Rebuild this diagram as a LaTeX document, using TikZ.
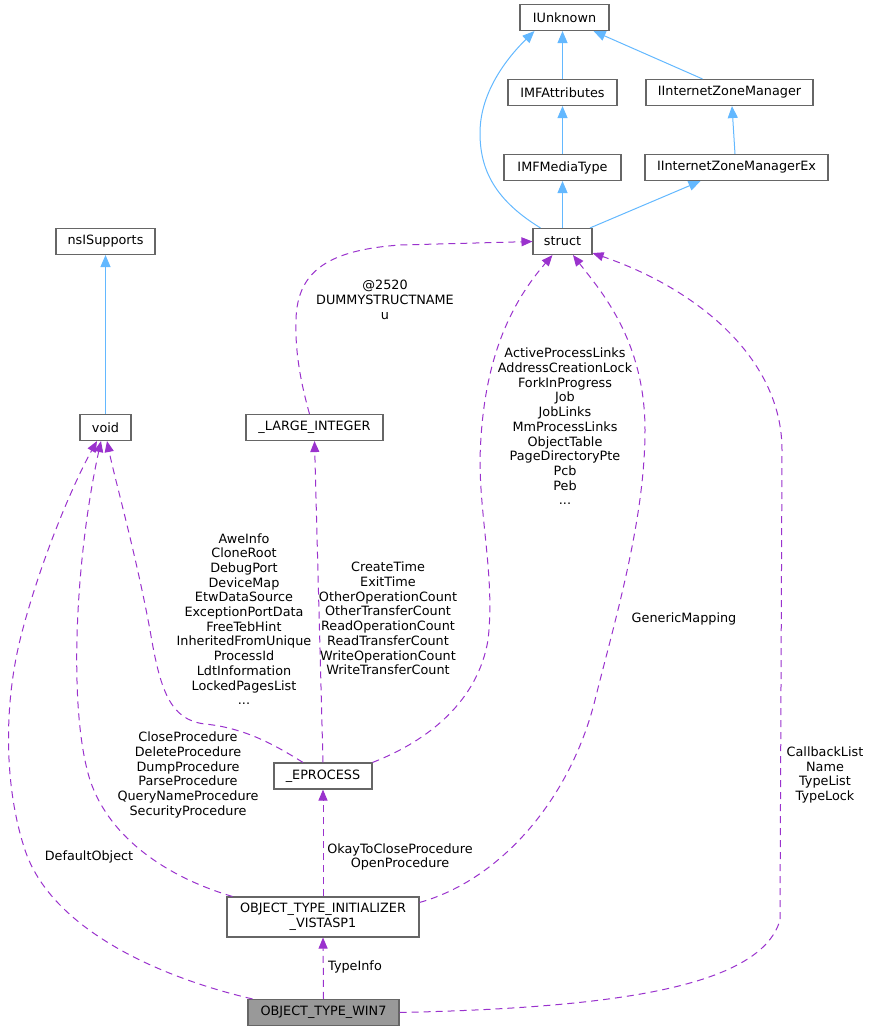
\documentclass[tikz,border=0pt]{standalone}
\usepackage{fontspec}
\setmainfont{DejaVu Sans}
\usetikzlibrary{arrows.meta}
\definecolor{inhblue}{HTML}{63B8FF}
\definecolor{usepurple}{HTML}{9A32CD}
\definecolor{boxgray}{HTML}{666666}
\definecolor{focusgray}{HTML}{999999}

\begin{document}
\begin{tikzpicture}[x=1pt, y=-1pt, font=\fontsize{12.8}{14.7}\selectfont]
  \tikzstyle{cls}=[draw=boxgray, line width=1.1pt, fill=white, minimum height=26pt, inner xsep=2pt, inner ysep=2pt]
  \tikzstyle{inh}=[draw=inhblue, line width=1pt, -{Triangle[length=12pt, width=10pt]}]
  \tikzstyle{use}=[draw=usepurple, line width=1pt, dash pattern=on 7pt off 5pt, -{Triangle[length=11pt, width=9pt]}]
  \tikzstyle{lab}=[align=center, inner sep=0pt]

  \useasboundingbox (0,0) rectangle (871,1031);

  % classes
  \node[cls, minimum width=89pt] (iunk) at (564.5,17.5) {IUnknown};
  \node[cls, minimum width=109pt] (imfattr) at (562.5,92.5) {IMFAttributes};
  \node[cls, minimum width=167pt] (izm) at (729.5,92.5) {IInternetZoneManager};
  \node[cls, minimum width=117pt] (imfmt) at (562.5,167.5) {IMFMediaType};
  \node[cls, minimum width=183pt] (izmex) at (736.5,167.5) {IInternetZoneManagerEx};
  \node[cls, minimum width=59pt] (struct) at (562.5,241.5) {struct};
  \node[cls, minimum width=99pt] (nsis) at (105.5,241.5) {nsISupports};
  \node[cls, minimum width=51pt] (void) at (105.5,427.5) {void};
  \node[cls, minimum width=137pt] (lint) at (314.5,427.5) {\_LARGE\_INTEGER};
  \node[cls, minimum width=98pt] (eproc) at (323,776) {\_EPROCESS};
  \node[cls, minimum width=192pt, minimum height=40pt, align=center] (oti) at (323,917) {OBJECT\_TYPE\_INITIALIZER\\\_VISTASP1};
  \node[cls, minimum width=151pt, fill=focusgray] (otw) at (323.5,1012.5) {OBJECT\_TYPE\_WIN7};

  % heranca
  \draw[inh] (imfattr.north) -- (imfattr.north |- iunk.south);
  \draw[inh] ([xshift=-27pt]izm.north) -- ([xshift=-16pt]iunk.south east);
  \draw[inh] ([xshift=-22pt]struct.north) .. controls (495,200) and (480,170) .. (480,133)
    .. controls (480,90) and (510,55) .. ([xshift=15pt]iunk.south west);
  \draw[inh] (imfmt) -- (imfattr);
  \draw[inh] ([xshift=-1.5pt]izmex.north) -- ([xshift=2.5pt]izm.south);
  \draw[inh] ([xshift=27.5pt]struct.north) -- ([xshift=-36pt]izmex.south);
  \draw[inh] (struct) -- (imfmt);
  \draw[inh] (void) -- (nsis);

  % uso
  \draw[use] ([xshift=-5pt]lint.north) .. controls (300,380) and (295,350) .. (296,320)
    .. controls (297,270) and (330,250) .. (400,245) -- (struct.west);
  \node[lab] (lbdummy) at (385,300) {@2520\\DUMMYSTRUCTNAME\\u};

  \draw[use] (eproc.north east) .. controls (430,740) and (478,700) .. (488,640)
    .. controls (495,580) and (480,520) .. (480,460)
    .. controls (482,370) and (505,310) .. ([xshift=20pt]struct.south west);
  \node[lab] (lbeproc) at (565,426.5) {ActiveProcessLinks\\AddressCreationLock\\ForkInProgress\\Job\\JobLinks\\MmProcessLinks\\ObjectTable\\PageDirectoryPte\\Pcb\\Peb\\...};

  \draw[use] ([yshift=-6pt]oti.north east) .. controls (500,880) and (570,800) .. (595,700)
    .. controls (615,620) and (645,520) .. (645,430)
    .. controls (645,340) and (600,290) .. ([xshift=10.5pt]struct.south);
  \node[lab] (lbgm) at (684,619) {GenericMapping};

  \draw[use] (otw.east) .. controls (600,1008) and (760,990) .. (780,920) -- (782,450)
    .. controls (782,360) and (700,290) .. ([yshift=2pt]struct.south east);
  \node[lab] (lbcb) at (825,775) {CallbackList\\Name\\TypeList\\TypeLock};

  \draw[use] (eproc.north) -- (lint.south);
  \node[lab] (lbtime) at (388,618.5) {CreateTime\\ExitTime\\OtherOperationCount\\OtherTransferCount\\ReadOperationCount\\ReadTransferCount\\WriteOperationCount\\WriteTransferCount};

  \draw[use] ([xshift=-20pt]eproc.north) .. controls (275,745) and (245,728) .. (205,724)
    .. controls (170,720) and (160,690) .. (150,630)
    .. controls (135,550) and (115,480) .. ([xshift=1.5pt]void.south);
  \node[lab] (lbawe) at (244,619) {AweInfo\\CloneRoot\\DebugPort\\DeviceMap\\EtwDataSource\\ExceptionPortData\\FreeTebHint\\InheritedFromUnique\\ProcessId\\LdtInformation\\LockedPagesList\\...};

  \draw[use] ([xshift=6pt]oti.north west) .. controls (170,878) and (110,840) .. (90,780)
    .. controls (68,710) and (75,560) .. ([xshift=-4.5pt]void.south);
  \node[lab] (lbproc) at (188,775) {CloseProcedure\\DeleteProcedure\\DumpProcedure\\ParseProcedure\\QueryNameProcedure\\SecurityProcedure};

  \draw[use] ([xshift=5pt]otw.north west) .. controls (150,975) and (50,925) .. (25,850)
    .. controls (5,790) and (3,710) .. (20,640)
    .. controls (40,560) and (75,480) .. ([xshift=-8.5pt]void.south);
  \node[lab] (lbdef) at (89,857) {DefaultObject};

  \draw[use] (oti.north) -- (eproc.south);
  \node[lab] (lbokay) at (400,857) {OkayToCloseProcedure\\OpenProcedure};

  \draw[use] (otw.north) -- (oti.south);
  \node[lab] (lbti) at (355,967) {TypeInfo};
\end{tikzpicture}
\end{document}
